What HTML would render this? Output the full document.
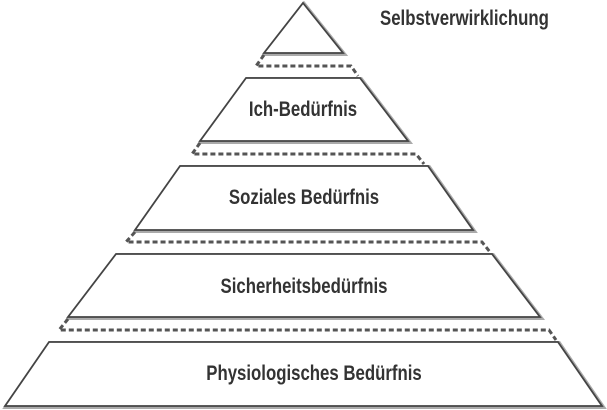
<!DOCTYPE html>
<html><head><meta charset="utf-8"><style>
html,body{margin:0;padding:0;background:#fff;width:607px;height:410px;overflow:hidden}
text{font-family:"Liberation Sans",sans-serif;font-weight:bold;fill:#333;font-size:21px}
</style></head><body>
<svg width="607" height="410" viewBox="0 0 607 410" xmlns="http://www.w3.org/2000/svg">
<g fill="#fff" stroke-linejoin="miter">
<g stroke="#aaa" stroke-width="4" transform="translate(1,1)">
<polygon points="303,3 343,53 264,53"/>
<polygon points="246,78 360,78 408,141 200,141"/>
<polygon points="180,166 428,166 473,230 135,230"/>
<polygon points="116,254 492,254 540,317 68,317"/>
<polygon points="49,342 558,342 602,406 5,406"/>
</g>
<g stroke="#444" stroke-width="1.8">
<polygon points="303,3 343,53 264,53"/>
<polygon points="246,78 360,78 408,141 200,141"/>
<polygon points="180,166 428,166 473,230 135,230"/>
<polygon points="116,254 492,254 540,317 68,317"/>
<polygon points="49,342 558,342 602,406 5,406"/>
</g>
</g>
<g stroke="#555" stroke-width="3" stroke-dasharray="5,3" fill="none">
<polyline points="264,55 256,66 351,66 358,76"/>
<polyline points="200,143 192,154 416,154 424,164"/>
<polyline points="135,232 126,242 482,242 490,252"/>
<polyline points="68,319 59,330 549,330 556,340"/>
</g>
<text transform="translate(380,25) scale(0.8,1)">Selbstverwirklichung</text>
<text transform="translate(303,116) scale(0.8,1)" text-anchor="middle">Ich-Bedürfnis</text>
<text transform="translate(304,204) scale(0.8,1)" text-anchor="middle">Soziales Bedürfnis</text>
<text transform="translate(304,293) scale(0.8,1)" text-anchor="middle">Sicherheitsbedürfnis</text>
<text transform="translate(314,380) scale(0.8,1)" text-anchor="middle">Physiologisches Bedürfnis</text>
</svg>
</body></html>
